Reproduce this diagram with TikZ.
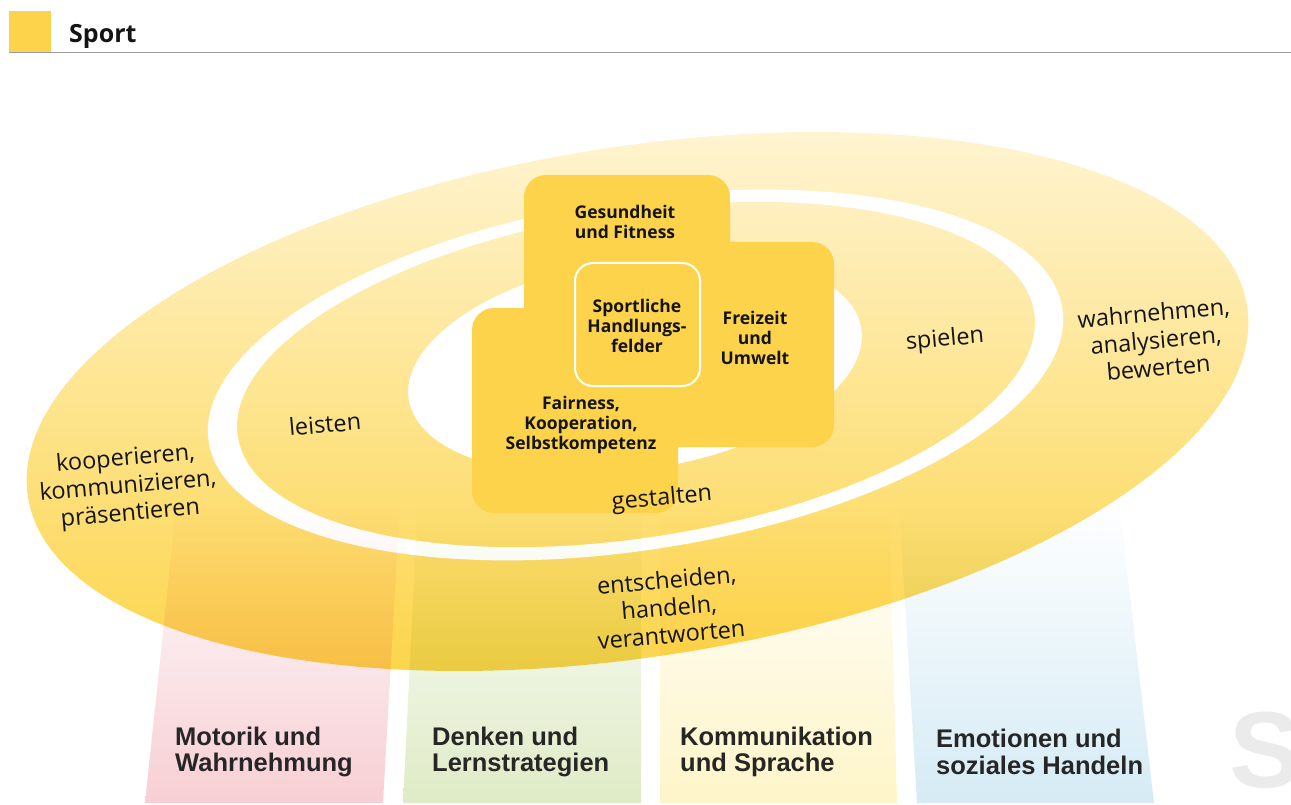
\documentclass[tikz,border=0pt]{standalone}
\usepackage{fontspec}
\setmainfont{Open Sans}
\newfontfamily\hvfont{Liberation Sans}
\definecolor{sqyellow}{HTML}{FDD34C}
\definecolor{ringtop}{HTML}{FFF6DA}
\definecolor{ringbot}{HTML}{FCD343}
\definecolor{colpink}{HTML}{F7CFD4}
\definecolor{colgreen}{HTML}{DFEBC6}
\definecolor{colyellow}{HTML}{FEF5C8}
\definecolor{colblue}{HTML}{D5EBF5}
\definecolor{txt}{HTML}{141414}
\definecolor{coltxt}{HTML}{262626}
\definecolor{rulegray}{HTML}{9A9A9A}
\definecolor{bigS}{HTML}{EBEBEB}
\begin{document}
\begin{tikzpicture}[x=1pt,y=-1pt,
  ringlbl/.style={font=\fontsize{23.5}{27.5}\selectfont, text=txt, align=center, rotate=5, inner sep=0pt},
  sqlbl/.style={font=\bfseries\fontsize{17.5}{19.8}\selectfont, text=txt, align=center, inner sep=0pt},
  collbl/.style={font=\hvfont\bfseries\fontsize{25.5}{26.5}\selectfont, text=coltxt, align=left, anchor=west, inner sep=0pt},
  sqbox/.style={fill=sqyellow, rounded corners=22pt},
  column/.style={shade, top color=white}
]
\useasboundingbox (0,0) rectangle (1291,805);
\clip (0,0) rectangle (1291,805);
% header
\fill[sqyellow] (9,11) rectangle (51,52);
\coordinate (hl) at (9,52.5);
\coordinate (hr) at (1291,52.5);
\draw[rulegray, line width=1.5pt] (hl) -- (hr);
\node[anchor=base west, inner sep=0pt, font=\bfseries\fontsize{25}{29}\selectfont, text=txt] (title) at (69,43) {Sport};
% big S
\node[anchor=base west, inner sep=0pt, font=\hvfont\bfseries\fontsize{108}{108}\selectfont, text=bigS] (bigs) at (1229,787) {S};
% rings
\path[shade, top color=ringtop, bottom color=ringbot] (637.5,401.5) circle[x radius=617pt, y radius=255pt, rotate=8.9];
\fill[white, even odd rule] (635.5,375) circle[x radius=432pt, y radius=175pt, rotate=8.9]
  (636,374.5) circle[x radius=403pt, y radius=163pt, rotate=8.9];
\fill[white] (635,364) circle[x radius=229pt, y radius=106pt, rotate=8.9];
% columns
\begin{scope}[blend mode=multiply]
\path[column, bottom color=colpink] (177,500) -- (400,500) -- (383,803) -- (145,803) -- cycle;
\path[column, bottom color=colgreen] (418,500) -- (641,500) -- (641,803) -- (403,803) -- cycle;
\path[column, bottom color=colyellow] (660,500) -- (889,500) -- (897,803) -- (660,803) -- cycle;
\path[column, bottom color=colblue] (899,500) -- (1119,500) -- (1154,803) -- (917,803) -- cycle;
\end{scope}
% squares
\fill[sqbox] (524,175) rectangle (730,400);
\fill[sqbox] (600,242) rectangle (834,447);
\fill[sqbox] (472,308) rectangle (678,513);
\draw[white, line width=2pt, fill=sqyellow, rounded corners=18pt] (575,263) rectangle (700,386);
% square labels
\node[sqlbl] (gesund) at (625,222) {Gesundheit\\und Fitness};
\node[sqlbl] (sportl) at (637,326) {Sportliche\\Handlungs-\\felder};
\node[sqlbl] (freiz) at (755,338) {Freizeit\\und\\Umwelt};
\node[sqlbl] (fair) at (581,425) {Fairness,\\Kooperation,\\Selbstkompetenz};
% ring labels
\node[ringlbl] (koop) at (128,487) {kooperieren,\\kommunizieren,\\präsentieren};
\node[ringlbl] (leist) at (325,424) {leisten};
\node[ringlbl] (spiel) at (945,340) {spielen};
\node[ringlbl] (wahr) at (1156,340) {wahrnehmen,\\analysieren,\\bewerten};
\node[ringlbl] (gest) at (662,499) {gestalten};
\node[ringlbl] (entsch) at (669,607) {entscheiden,\\handeln,\\verantworten};
% column labels
\node[collbl] (mot) at (175,752) {Motorik und\\Wahrnehmung};
\node[collbl] (denk) at (432,752) {Denken und\\Lernstrategien};
\node[collbl] (komm) at (680,752) {Kommunikation\\und Sprache};
\node[collbl] (emo) at (936,752) {Emotionen und\\soziales Handeln};
\end{tikzpicture}
\end{document}
